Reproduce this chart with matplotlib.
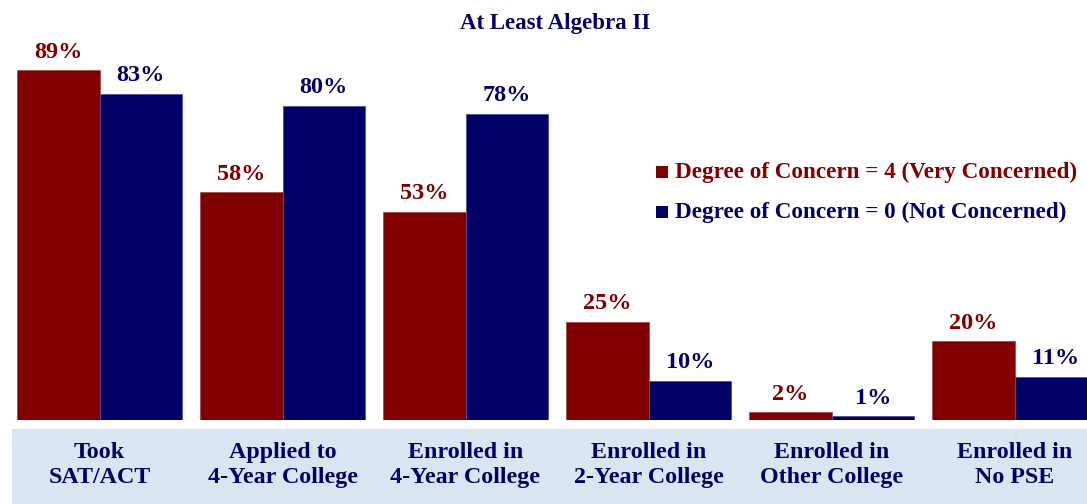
import numpy as np
import matplotlib
matplotlib.use("Agg")
import matplotlib.pyplot as plt
from matplotlib.patches import Rectangle

plt.rcParams['font.family'] = ['Liberation Serif', 'DejaVu Serif']
plt.rcParams['font.weight'] = 'bold'

# data
categories = ["Took\nSAT/ACT", "Applied to\n4-Year College", "Enrolled in\n4-Year College",
              "Enrolled in\n2-Year College", "Enrolled in\nOther College", "Enrolled in\nNo PSE"]
very_concerned = [89, 58, 53, 25, 2, 20]
not_concerned = [83, 80, 78, 10, 1, 11]
series_names = ["Degree of Concern = 4 (Very Concerned)", "Degree of Concern = 0 (Not Concerned)"]

red = "#800000"
navy = "#000066"

fig = plt.figure(figsize=(10.87, 5.04), dpi=100)

# light blue band behind category labels
fig.patches.append(Rectangle((12 / 1087, 0), 1, 75 / 504, transform=fig.transFigure,
                             facecolor="#dbe5f1", edgecolor="none", zorder=0))

ax = fig.add_axes([0, 84 / 504, 1, 420 / 504])
ax.set_facecolor("none")

x = np.arange(len(categories))
w = 0.451
b1 = ax.bar(x - w / 2, very_concerned, w, color=red, edgecolor="#a05050", linewidth=0.6)
b2 = ax.bar(x + w / 2, not_concerned, w, color=navy, edgecolor="#5050a0", linewidth=0.6)

for bars, vals, col in [(b1, very_concerned, red), (b2, not_concerned, navy)]:
    for b, v in zip(bars, vals):
        ax.text(b.get_x() + b.get_width() / 2, v + 1.9, f"{v}%", ha="center", va="bottom",
                color=col, fontsize=17.5, fontweight="bold")

ax.set_xlim(-0.544, 5.396)
ax.set_ylim(0, 106.9)
ax.axis("off")

# category labels in the band
for i, lab in enumerate(categories):
    fig.text((99.5 + 183 * i) / 1087, 1 - 465 / 504, lab, ha="center", va="center",
             color=navy, fontsize=17.3, fontweight="bold", linespacing=1.3)

fig.text(555 / 1087, 1 - 24 / 504, "At Least Algebra II", ha="center", va="center",
         color=navy, fontsize=16.5, fontweight="bold")

# legend
for j, (name, col) in enumerate(zip(series_names, [red, navy])):
    yy = 1 - (172 + 40 * j) / 504
    fig.patches.append(Rectangle((656 / 1087, yy - 6 / 504), 12 / 1087, 12 / 504,
                                 transform=fig.transFigure, facecolor=col, edgecolor="none"))
    fig.text(675 / 1087, yy, name, ha="left", va="center", color=col,
             fontsize=16.7, fontweight="bold")

fig.savefig("out.png", dpi=100)
